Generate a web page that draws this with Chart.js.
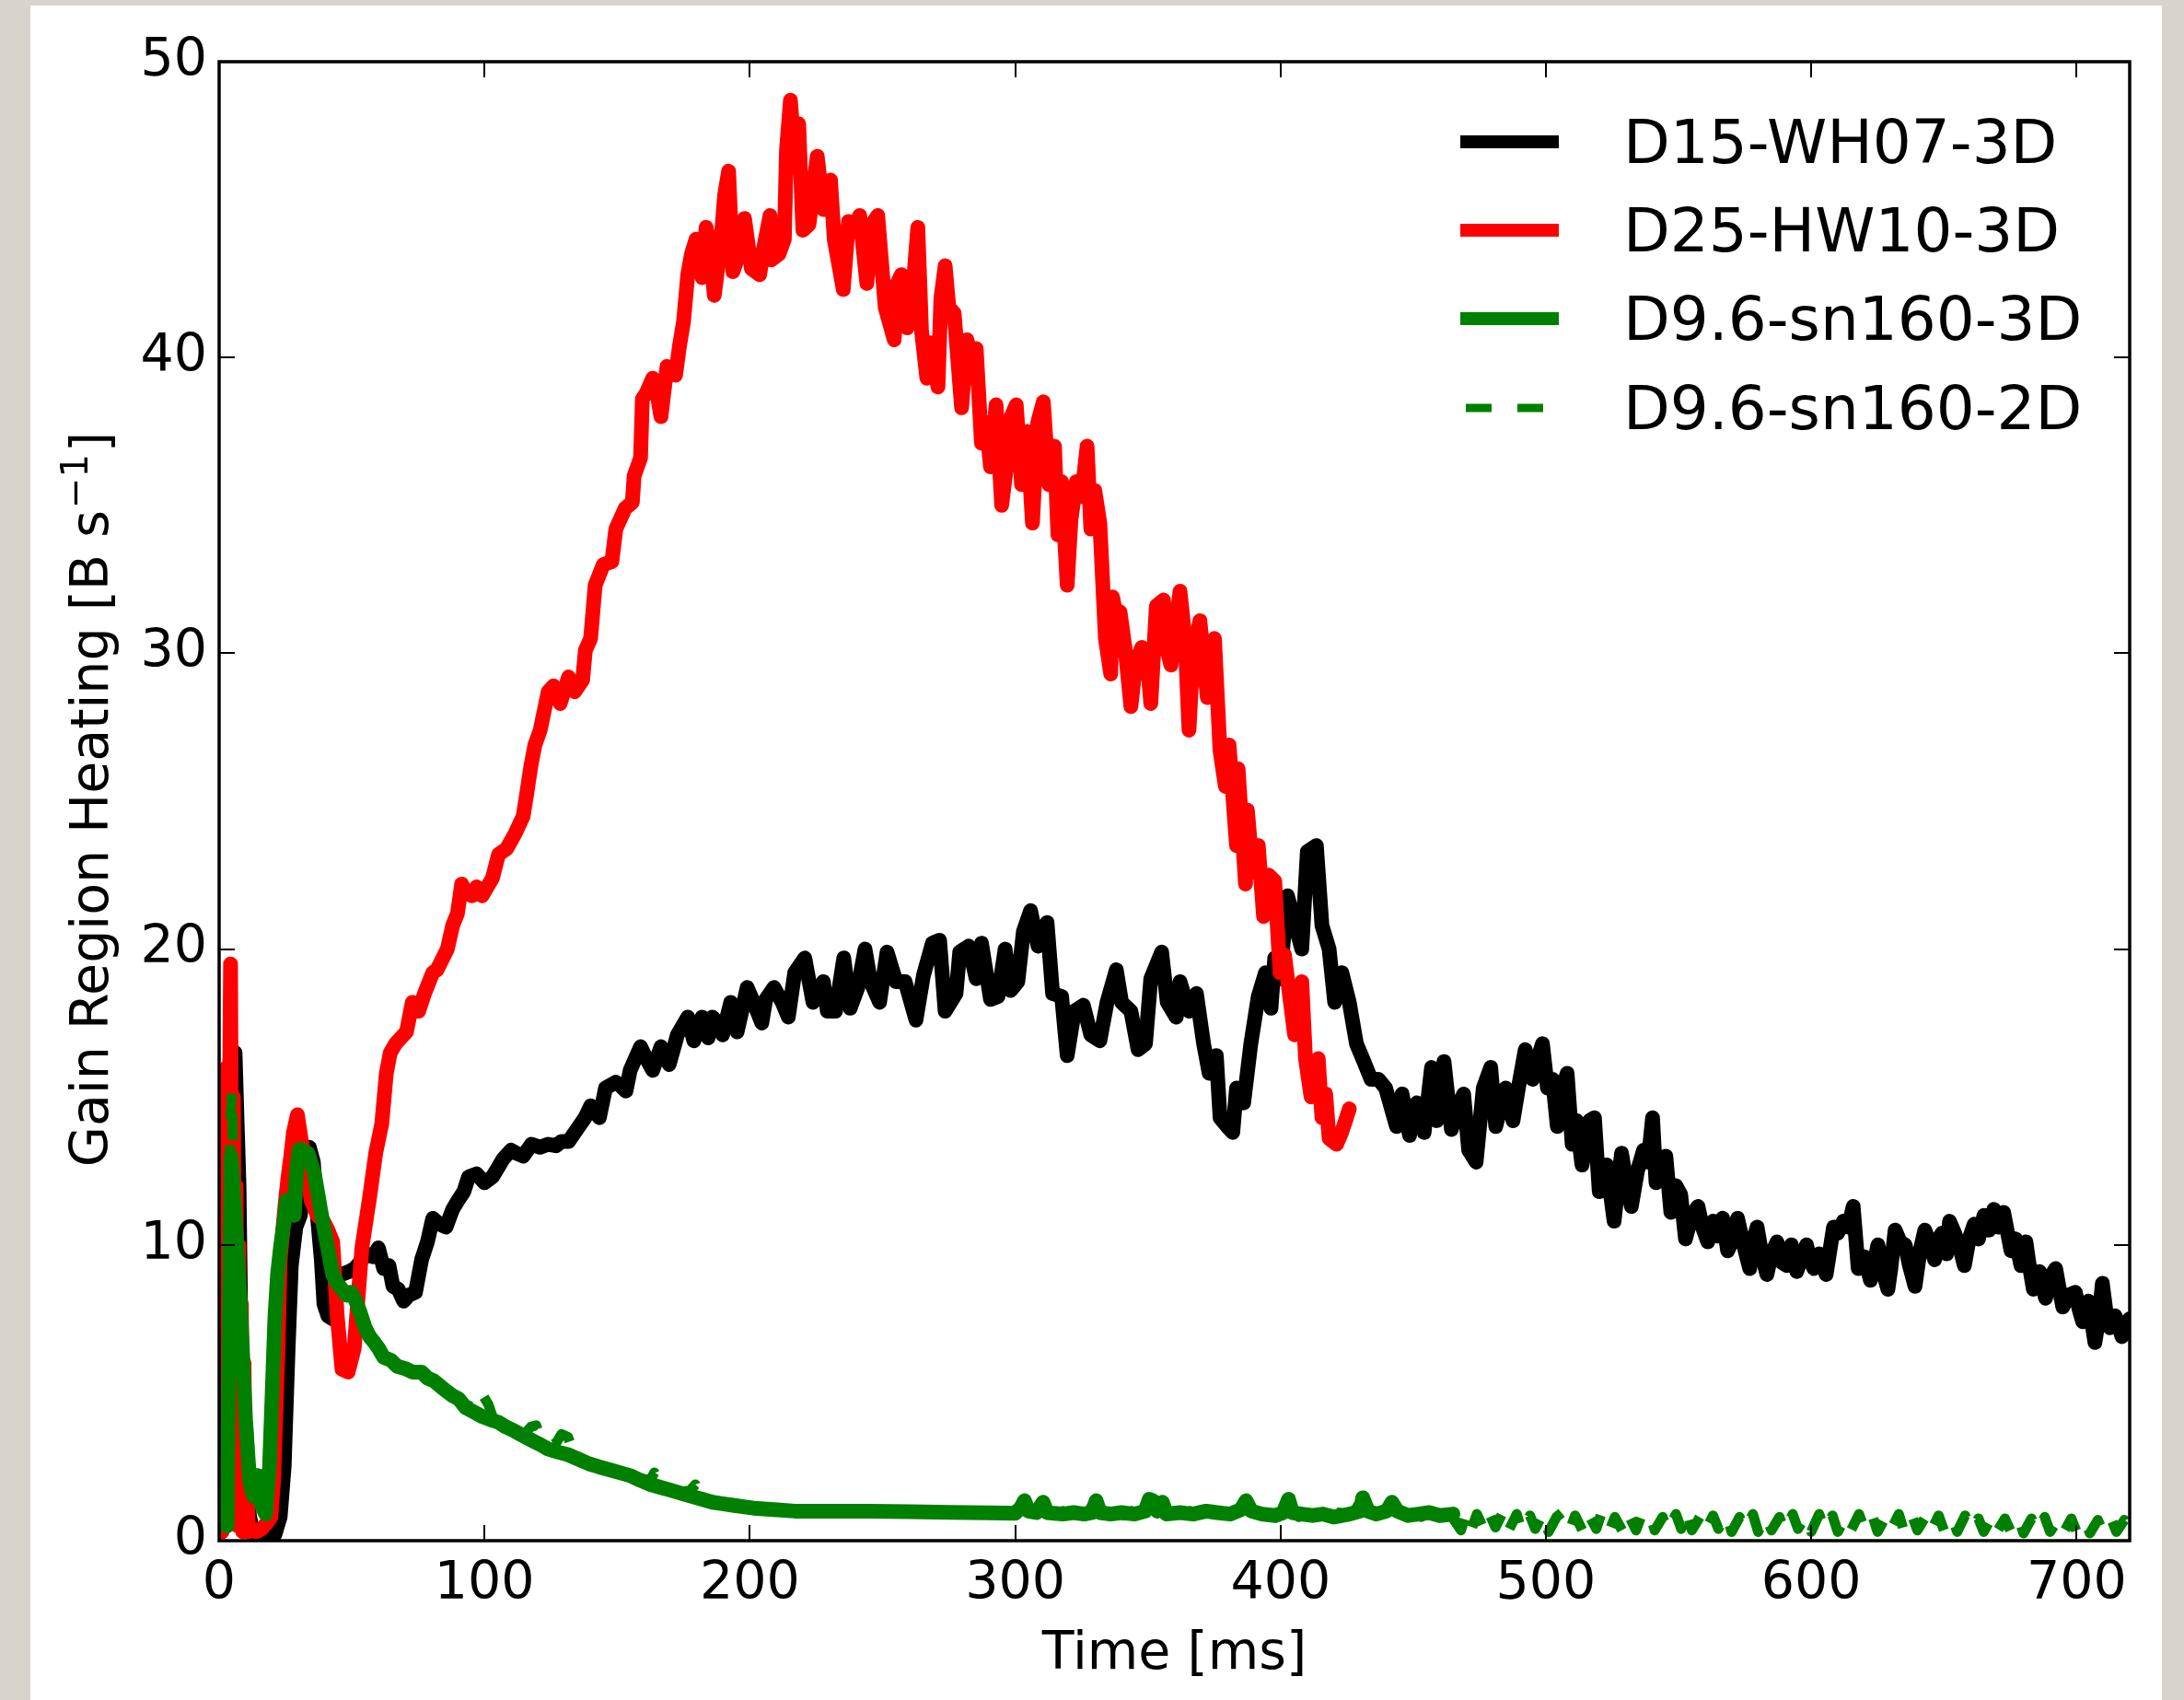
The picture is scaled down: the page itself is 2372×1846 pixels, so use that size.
<!DOCTYPE html>
<html>
<head>
<meta charset="utf-8">
<script src="https://cdn.jsdelivr.net/npm/chart.js@4.4.1/dist/chart.umd.min.js"></script>
<style>
  html, body { margin: 0; padding: 0; width: 2372px; height: 1846px; overflow: hidden; background: #d8d4cd; }
  #wrap { position: absolute; left: 33px; top: 6px; width: 2315px; height: 1840px; background: #ffffff; }
  #c { display: block; }
</style>
</head>
<body>
<div id="wrap"><canvas id="c" width="2315" height="1840"></canvas></div>
<script>
// ---------------- DATA ----------------
const seriesNames = ['D15-WH07-3D', 'D25-HW10-3D', 'D9.6-sn160-3D', 'D9.6-sn160-2D'];
const xTickValues = [0, 100, 200, 300, 400, 500, 600, 700];
const xTickLabels = ['0', '100', '200', '300', '400', '500', '600', '700'];
const yTickValues = [0, 10, 20, 30, 40, 50];
const yTickLabels = ['0', '10', '20', '30', '40', '50'];
const xTitle = 'Time [ms]';
const yTitleMain = 'Gain Region Heating [B s';
const yTitleSup = '\u22121';
const yTitleEnd = ']';

// D15-WH07-3D (black)
const blackT = [1,3,4.5,6,7.5,8.5,10,11.5,13,15,17,19,21,23,24.5,26,27.2,28.9,30.6,32.4,34,35.5,37,38.5,39.5,41,42.8,43.5,46,49,51,53,55.5,58,60,62,64,65.5,67.5,69.5,71.5,74,76.3,78.5,80.5,83,85.5,88,90,92.2,94,97,100,103,105,107,110,112,114.6,117.7,121,124,127,129,131.7,134.8,137.9,140,141,143.3,145.6,149.5,151,153.3,154.9,158.8,161,163.4,166.5,169.6,172.7,176.6,178.9,182,184.3,185.9,188,189.7,192.8,195.2,199,201.4,204.5,206,209.1,212.2,214.5,216.9,220.7,223.8,227.7,229.2,232.3,235.4,237.8,240.7,243.4,245.5,248.9,251.7,255.1,258.5,262.6,265.4,268.8,271.5,273.6,277.7,279.1,282.5,285.3,287.3,290.7,293.5,296.2,298.3,301,303.1,305.8,308.6,312,314.1,317.5,319.6,322.3,325.7,328.5,331.9,334.6,338.1,340.1,343.6,346.3,349.1,351.1,355.2,357.3,360.7,362.1,365.5,368.3,371,373.1,375.8,377.2,379.9,382,383.4,386.1,388.8,391.6,394.3,396.4,397.8,399.8,402.6,405.3,408,410.1,413.5,415.6,418.3,420.4,423.1,425.9,428.6,431.4,434.1,436.9,439.6,443.7,445.8,448.6,451.3,454.1,456.9,458.8,461.6,464.4,466.5,469,470.9,473.7,476.4,479.2,481.1,484.8,487.6,490,492.2,495,497,498.7,500.6,502.5,504.3,506,508,509.9,511.5,513.6,516.4,518.3,520.1,522.9,525.7,528.5,530,532.2,534.5,536.8,538.5,540.2,541.5,543.5,545.2,547.1,549,550.8,552.6,555,557.3,559,561,563,564.5,566.6,568.5,570.5,572.2,574.5,576.8,578,579.6,581.5,583.3,585,587.1,589,590.8,592.5,594.5,596.5,598.2,599.5,601,603,605.6,607,608.4,610,612.1,614,615.8,617.7,620,622.3,624,625.1,627,628.9,630,631.6,633.5,635.4,637,639.1,641,642.8,644.5,646.5,648,649.3,651,652.1,654,656,657.7,659.5,661.4,663,665.1,667,668.8,670.5,672.5,675.3,677,679,680.9,682,683.7,686,688.3,690,692.1,693.5,694.8,697,699.5,701,702.3,704.5,706.9,708.5,709.7,711,712.5,714.5,717.1,719,720];
const blackV = [0.3,9,15,16.5,12,5,2,0.8,0.2,0.05,0.05,0.1,0.2,0.8,2.5,6.5,9.3,10.6,11,12.5,13.3,12.8,11,9.5,8,7.6,7.5,8.9,9,9.1,9.2,9.4,9.7,9.6,9.9,9.2,9.3,8.6,8.5,8.1,8.3,8.4,9.5,10.1,10.9,10.7,10.6,11.2,11.5,11.8,12.3,12.4,12.1,12.3,12.6,12.9,13.2,13.1,13.0,13.4,13.3,13.4,13.35,13.5,13.5,13.9,14.3,14.7,14.6,14.3,15.3,15.5,15.4,15.2,15.9,16.7,16.3,15.9,16.7,16.1,17.1,17.7,16.9,17.7,17,17.7,17.5,17.1,18.2,17.2,18.7,18.2,17.5,18.3,18.7,18.2,17.7,19.2,19.7,18.2,18.9,17.9,17.9,19.7,18.0,18.7,20,18.9,18.2,19.9,18.9,18.9,17.6,19.1,20.2,20.3,17.9,18.5,19.9,20.1,19,20.2,18.3,18.4,20,18.6,18.9,20.6,21.3,20.1,20.9,18.5,18.4,16.4,17.9,18.1,17.1,16.9,18.2,19.3,18.2,17.9,16.6,16.8,19,19.9,18.2,17.7,18.9,17.9,18.5,16.8,15.8,16.4,14.3,14,13.8,15.3,14.8,16.8,18.4,19.2,18,19.7,19,21.8,20.9,20,23.3,23.5,20.8,20,18.2,19.2,18.2,16.8,16.2,15.6,15.6,15.3,14,15.1,13.7,14.8,13.8,16,14.2,16.2,13.9,14.6,15.1,13.2,12.8,15.3,16,14,15.3,14.2,15.5,16.6,15.6,16.3,16.8,15.3,15.6,14,15.2,15.8,13.4,14.2,12.7,14.2,14.3,11.8,12.7,10.8,13.1,12.3,11.3,12.5,13.2,12.8,14.3,12.1,12.4,13.0,11.1,12,11.7,10.2,11,11.3,10.6,10.1,10.8,10.3,10.9,9.8,10.2,10.9,10,9.2,10.1,10.6,9.6,9,9.7,10.1,9.4,9.3,10,9.1,9.6,10,9.5,9.2,9.7,9,9.8,10.6,10.4,10.8,10.6,11.3,9.2,9.6,8.8,9.5,10,9.1,8.5,9.2,10.5,10.1,10,9.3,8.6,9.8,10.5,10.1,9.5,10.2,10.4,9.7,10.8,10.4,9.9,9.3,10.2,10.7,10.2,11,10.5,11.2,10.6,11.1,9.8,10.2,9.3,10.1,9.4,8.5,9.1,8.2,8.9,9.2,8.5,7.9,8.3,8.4,7.8,7.4,8.1,6.7,7.6,8.7,7.8,7.2,7.6,6.9,7.4,7.5];

// D25-HW10-3D (red)
const redT = [1,1.6,2.2,2.8,3.4,4.3,4.9,5.4,5.9,6.4,6.9,7.4,7.9,8.4,8.9,9.4,9.9,10.4,11,12.5,14,16,18,19.5,20.5,22,23,24,25,26,27,28,29.5,31,32.4,34.7,37,39.3,41,42.8,44.5,46.3,48.6,50.9,52,53.8,56.7,59,61.3,63,64.5,66.5,68.5,70.6,72.8,75.2,77.4,80.5,82.1,86,88,89.8,91.4,93,95.3,97,99.1,103,105.3,108.4,111.5,114.6,116,117.5,119,121,124,126,128.5,131.7,134,137,138,140,141.7,144.8,148,149.5,153,155.7,156.4,158.8,159.5,161,163.4,165,166.5,168.8,172,173.5,175,176.6,178,179.7,181,182,183.5,185,186.6,189,190.5,192,193.6,196,198,200.6,203.7,205,207.6,208,211,213,213.8,215.3,216.9,218.4,220,222.3,225.4,227.7,229,230.4,231.8,235.2,237.2,239,241.4,244.1,246,248.2,251,254.4,255.5,257.1,259.2,261,263.3,264.7,266.7,268,270.9,272,273.6,275,277,279.8,281.8,283.5,285.3,287.3,289,290.7,292.8,294.9,297,298.5,300.4,302.4,304.5,306.5,308.5,310.6,312.7,314.8,316.1,317.5,319.6,321,323,325,327.1,328.5,330,331.9,334,336,336.7,338,339.5,341.5,343.6,345.5,347.7,349.5,351.1,353.2,355.9,357,358.7,362.1,364,365.5,366.9,369.6,371,372.4,375.1,377.2,379.2,380.6,383.4,384,386.8,387.5,389.5,391.6,393.6,395.5,397.8,399.8,401.5,403.3,405.3,407,408,409.4,411.5,413,414.2,415.6,417,418.3,421.1,423,424.5,425.9];
const redV = [0.3,11,4,16,9,19.5,8,15,2,12,0.5,10,1,8,0.3,6,0.5,3,0.3,0.4,0.3,0.4,0.6,0.8,2,6,9.5,10.5,11.5,12.3,13,13.8,14.4,13.5,13,11.5,11,10.8,10.5,10.1,7.6,5.8,5.7,6.5,7.8,9.9,11.6,13.1,14.1,15.8,16.5,16.8,17,17.2,18.2,17.9,18.5,19.2,19.3,20,20.8,21.2,22.2,21.9,21.8,22.1,21.8,22.4,23.2,23.4,23.9,24.5,25.3,26.2,26.9,27.4,28.7,28.9,28.3,29.2,28.7,29.1,30.1,30.5,32.3,33,33.1,34.2,34.9,35.1,36,36.6,38.6,38.8,39.3,38.8,38,39.7,39.4,40.4,41.2,42.8,43.5,44,43.6,42.7,44.4,43.8,42.1,43.8,45.5,46.3,42.9,43.5,44.7,43,42.8,43.6,44.8,43.3,43.5,44,47,48.7,46.7,47.9,44.3,44.5,46.8,45,45.9,46,44,42.3,44.6,44.3,44.8,42.5,44.5,44.8,41.7,40.6,42.5,42.8,41,41.8,44.4,40.9,39.3,40.5,39,42,43.1,41.7,41.5,38.3,40.6,40,40.3,37.1,37.8,36.3,38.4,35,36.5,38,38.4,35.7,37.5,34.4,37.8,38.5,35.7,37,34,35.8,32.3,34.5,35.8,35.3,37,34.2,35.5,34.4,30.5,29.3,31.9,31.3,31.4,30.1,28.2,29.7,30.2,30,28.3,31.6,31.8,30.2,29.6,32.1,30.5,27.4,29.8,31.1,29.8,28.5,30.5,26.7,25.5,26.9,23.5,26.1,22.2,24.7,22.6,23.5,21.1,22.5,22.3,19.2,19.8,18.5,17.1,17.4,18.9,16.3,15,15.3,16.3,14.3,15.1,13.6,13.4,13.8,14.2,14.6];

// D9.6-sn160-3D (green solid)
const green3dT = [3,4.5,6,8,10,11.5,13,14.5,16,17.5,19,20,21,22,23.1,24.5,25.4,27,28.3,29.2,30.1,31.5,33.5,35.9,38.2,40.5,42.8,44.5,46.3,48,49.7,51.5,53.2,55,56.7,58.5,60.1,62,64.8,67,70.6,73,76.3,78.5,81,85,88,90.2,92.9,96,99.1,102,105.3,108,111.5,114.5,117.7,121,123.9,127.5,131.7,135.5,139.4,143,147.1,151,154.9,158.5,162.6,166.5,170.4,174.2,178.1,182,185.9,189.7,193.6,197.5,201.4,209,216.9,230,245,260,275,290,300,302,303.5,305,308,310.5,312,318,322,326,329,330.5,332,336,340,345,349,350.5,352,353.5,355.5,357,362,367,372,376,381,385,387,389,393,398,401,403,404.5,408,412,416,420,426,430,431,433,436,440,442,444,448,452,456,460,465];
const green3dV = [0.5,13,11,8,4,2,1.5,2.2,1.2,0.9,2.5,5,7.5,9,9.9,10.8,11.5,11.2,11,12.5,13.2,13.2,13.1,12.4,11.2,10.1,9,8.7,8.5,8.3,8.4,8.1,7.7,7.2,6.9,6.7,6.5,6.2,6.1,5.9,5.8,5.7,5.7,5.5,5.4,5.1,4.9,4.8,4.5,4.35,4.2,4.1,4.0,3.85,3.7,3.55,3.4,3.25,3.1,3.0,2.9,2.75,2.6,2.5,2.4,2.3,2.2,2.05,1.9,1.8,1.7,1.6,1.5,1.4,1.3,1.25,1.2,1.15,1.1,1.05,1.0,1.0,1.0,0.98,0.96,0.94,0.93,1.1,1.35,1.0,0.95,1.3,0.95,0.9,0.95,0.9,0.95,1.35,0.95,0.9,0.95,0.9,1.0,1.4,1.35,1.0,1.3,0.9,0.95,0.9,1.0,0.95,0.9,1.05,1.35,1.0,0.9,0.85,0.95,1.4,0.95,0.9,0.85,0.9,0.8,0.9,1.0,1.45,1.0,0.9,1.0,1.3,1.0,0.85,0.9,0.95,0.85,0.9];

// D9.6-sn160-2D (green dashed): part overlapping the 3D run, then the late tail
const green2dHeadT = [2,3.2,4.2,4.8,5.5,6.5,7.5,8.5,9.5,10.5,11.5,12.5,13.5,14.5,15.5,16.5,17.5,18.5,19.5,20.5,21.5,22.5,23.5,24.5,25.5,27,28.3,29.2,30.1,31.5,33.5,35.9,38.2,40.5,42.8,44.5,46.3,49.7,53.2,56.7,60.1,64.8,70.6,76.3,81,85,88,92.9,96,97.5,99.5,101.5,103,105.3,108,111.5,115,117.5,119.5,121,123.9,127,129,131.5,133.5,135.5,139.4,143,147.1,151,154.9,158.5,162.5,164,165.5,170.4,174.2,177.5,179.5,181,185.9,189.7,193.6,201.4,216.9,230,245,260,275,290,300,302,303.5,305,307,310.5,312,315,318,321,324,327,330.5,332,335,338,341,344,347,350.5,352,353.5,355.5,357,360,363,366,369,372,375,378,381,384,387,389,392,395,398,401,403,404.5,407,410,413,416,419,422,425,428,431,433,436,439,442,444,447,450,453,456,459,462,465];
const green2dHeadV = [0.3,6,14,15.2,12,10.5,9.5,8,6.2,4.5,3,1.8,1.5,2.1,1.4,1.0,1.2,2.5,4.5,7,8.5,9.5,10.2,10.8,11.6,11.3,11.2,12.6,13.3,13.3,13.0,12.5,11.3,10.2,9.1,8.8,8.5,8.3,7.8,6.9,6.4,6.1,5.8,5.6,5.4,5.1,4.9,4.6,4.5,5.0,4.9,4.6,4.2,4.0,3.9,3.75,3.6,3.85,3.9,3.45,3.2,3.3,3.6,3.5,3.0,2.85,2.65,2.55,2.45,2.3,2.25,2.1,2.05,2.3,2.0,1.75,1.65,1.7,1.9,1.5,1.35,1.3,1.2,1.12,1.02,1.0,1.0,0.98,0.95,0.93,0.92,1.2,1.4,1.05,0.9,1.35,0.95,0.85,1.0,0.9,1.05,0.9,1.4,0.95,0.85,1.0,0.85,1.0,0.9,1.45,1.4,1.0,1.35,0.9,1.0,0.85,1.0,0.9,1.05,0.9,1.0,0.85,1.05,1.4,1.0,0.85,0.95,0.8,0.95,1.45,0.95,0.8,0.95,0.85,0.9,0.8,0.95,0.85,1.0,1.5,1.05,0.9,1.0,1.35,0.95,0.85,0.95,0.8,0.95,0.8,0.9,0.75];
const green2dTailT = [468,470,472,474,477,479,481,484,486,489,491,494,496,499,501,504,506,509,511,514,516,519,521,524,526,529,531,534,536,539,541,544,546,549,551,553,555,558,560,563,565,568,570,573,575,578,580,583,585,588,590,593,595,598,600,603,605,608,610,613,615,618,620,623,625,628,630,633,635,638,640,643,645,648,650,653,655,658,660,663,665,668,670,673,675,678,680,683,685,688,690,693,695,698,700,703,705,708,710,713,715,718,720];
const green2dTailV = [0.35,0.95,0.4,0.9,0.3,0.85,0.45,1.0,0.35,0.9,0.3,0.85,0.4,0.95,0.3,0.8,0.95,0.35,0.85,0.3,0.9,0.4,0.95,0.35,0.8,0.3,0.9,0.35,0.85,1.0,0.35,0.8,0.3,0.9,0.4,1.05,0.35,0.8,0.3,0.85,0.4,0.9,0.3,0.8,0.35,0.9,0.3,0.85,0.35,0.8,0.3,0.9,0.4,0.85,0.3,0.9,0.35,0.85,0.3,0.8,0.35,0.9,0.4,0.85,0.3,0.8,0.35,0.9,0.3,0.85,0.35,0.8,0.3,0.85,0.35,0.8,0.3,0.85,0.35,0.75,0.3,0.8,0.3,0.75,0.35,0.8,0.25,0.75,0.3,0.8,0.3,0.7,0.25,0.75,0.3,0.7,0.25,0.7,0.3,0.75,0.3,0.7,0.35];

// ---------------- CHART ----------------
function pts(ts, vs) {
  const out = [];
  const n = Math.min(ts.length, vs.length);
  for (let i = 0; i < n; i++) out.push({ x: ts[i], y: vs[i] });
  return out;
}

const FONT = 'DejaVu Sans';
const PLOT = { left: 205, top: 61, right: 2280, bottom: 1667 };

const legendStyle = [
  { color: '#000000', width: 14, dash: [] },
  { color: '#ff0000', width: 14, dash: [] },
  { color: '#008000', width: 14, dash: [] },
  { color: '#008000', width: 9, dash: [28, 28] }
];

const framePlugin = {
  id: 'frameTicks',
  afterDatasetsDraw(chart) {
    const { ctx, chartArea: a, scales } = chart;
    ctx.save();
    ctx.strokeStyle = '#000';
    ctx.lineWidth = 2;
    const tl = 17;
    xTickValues.forEach(v => {
      const px = Math.round(scales.x.getPixelForValue(v));
      ctx.beginPath(); ctx.moveTo(px, a.bottom); ctx.lineTo(px, a.bottom - tl); ctx.stroke();
      ctx.beginPath(); ctx.moveTo(px, a.top); ctx.lineTo(px, a.top + tl); ctx.stroke();
    });
    yTickValues.forEach(v => {
      const py = Math.round(scales.y.getPixelForValue(v));
      ctx.beginPath(); ctx.moveTo(a.left, py); ctx.lineTo(a.left + tl, py); ctx.stroke();
      ctx.beginPath(); ctx.moveTo(a.right, py); ctx.lineTo(a.right - tl, py); ctx.stroke();
    });
    ctx.lineWidth = 3.5;
    ctx.strokeRect(a.left, a.top, a.right - a.left, a.bottom - a.top);
    ctx.restore();
  },
  afterDraw(chart) {
    const { ctx, chartArea: a } = chart;
    ctx.save();
    ctx.fillStyle = '#000';
    ctx.font = '57px "' + FONT + '"';
    ctx.textAlign = 'center';
    ctx.textBaseline = 'alphabetic';
    ctx.fillText(xTitle, (a.left + a.right) / 2, 1806);
    ctx.translate(84, (a.top + a.bottom) / 2);
    ctx.rotate(-Math.PI / 2);
    ctx.textAlign = 'left';
    ctx.font = '57px "' + FONT + '"';
    const w1 = ctx.measureText(yTitleMain).width;
    const w3 = ctx.measureText(yTitleEnd).width;
    ctx.font = '40px "' + FONT + '"';
    const w2 = ctx.measureText(yTitleSup).width;
    const start = -(w1 + w2 + w3) / 2;
    ctx.font = '57px "' + FONT + '"';
    ctx.fillText(yTitleMain, start, 0);
    ctx.font = '40px "' + FONT + '"';
    ctx.fillText(yTitleSup, start + w1 + 2, -22);
    ctx.font = '57px "' + FONT + '"';
    ctx.fillText(yTitleEnd, start + w1 + w2 + 4, 0);
    ctx.restore();

    ctx.save();
    const lx0 = 1553, lx1 = 1660, tx = 1730;
    const rowY = [148, 244, 340, 437];
    ctx.font = '66px "' + FONT + '"';
    ctx.textBaseline = 'alphabetic';
    ctx.fillStyle = '#000';
    seriesNames.forEach((name, i) => {
      const st = legendStyle[i];
      ctx.save();
      ctx.strokeStyle = st.color;
      ctx.lineWidth = st.width;
      ctx.lineCap = 'butt';
      ctx.setLineDash(st.dash);
      ctx.beginPath();
      if (st.dash.length) { ctx.moveTo(lx0 + 6, rowY[i]); ctx.lineTo(lx1 - 2, rowY[i]); }
      else { ctx.moveTo(lx0, rowY[i]); ctx.lineTo(lx1, rowY[i]); }
      ctx.stroke();
      ctx.restore();
      ctx.fillText(name, tx, rowY[i] + 23);
    });
    ctx.restore();
  }
};

const common = { pointRadius: 0, pointHoverRadius: 0, tension: 0, fill: false, clip: 0,
                 borderJoinStyle: 'round', borderCapStyle: 'round' };

new Chart(document.getElementById('c'), {
  type: 'line',
  data: {
    datasets: [
      Object.assign({ label: seriesNames[3], data: pts(green2dHeadT.concat(green2dTailT), green2dHeadV.concat(green2dTailV)), borderColor: '#008000', borderWidth: 11, borderDash: [28, 28], order: 1 }, common, { borderCapStyle: 'butt' }),
      Object.assign({ label: seriesNames[2], data: pts(green3dT, green3dV), borderColor: '#008000', borderWidth: 16, order: 2 }, common),
      Object.assign({ label: seriesNames[1], data: pts(redT, redV), borderColor: '#ff0000', borderWidth: 16, order: 3 }, common),
      Object.assign({ label: seriesNames[0], data: pts(blackT, blackV), borderColor: '#000000', borderWidth: 16, order: 4 }, common)
    ]
  },
  options: {
    responsive: false,
    devicePixelRatio: 1,
    animation: false,
    events: [],
    layout: { padding: { left: 0, top: PLOT.top, right: 2315 - PLOT.right, bottom: 0 } },
    plugins: { legend: { display: false }, tooltip: { enabled: false }, title: { display: false } },
    scales: {
      x: {
        type: 'linear', position: 'bottom', min: 0, max: 720,
        grid: { display: false, drawTicks: false },
        border: { display: false },
        afterBuildTicks: s => { s.ticks = xTickValues.map(v => ({ value: v })); },
        afterFit: s => { s.height = 1840 - PLOT.bottom; },
        ticks: {
          color: '#000', padding: 14, maxRotation: 0, autoSkip: false,
          font: { family: FONT, size: 57 },
          callback: v => xTickLabels[xTickValues.indexOf(v)]
        }
      },
      y: {
        type: 'linear', position: 'left', min: 0, max: 50,
        grid: { display: false, drawTicks: false },
        border: { display: false },
        afterBuildTicks: s => { s.ticks = yTickValues.map(v => ({ value: v })); },
        afterFit: s => { s.width = PLOT.left; },
        ticks: {
          color: '#000', padding: 13, autoSkip: false,
          font: { family: FONT, size: 57 },
          callback: v => yTickLabels[yTickValues.indexOf(v)]
        }
      }
    }
  },
  plugins: [framePlugin]
});
</script>
</body>
</html>
